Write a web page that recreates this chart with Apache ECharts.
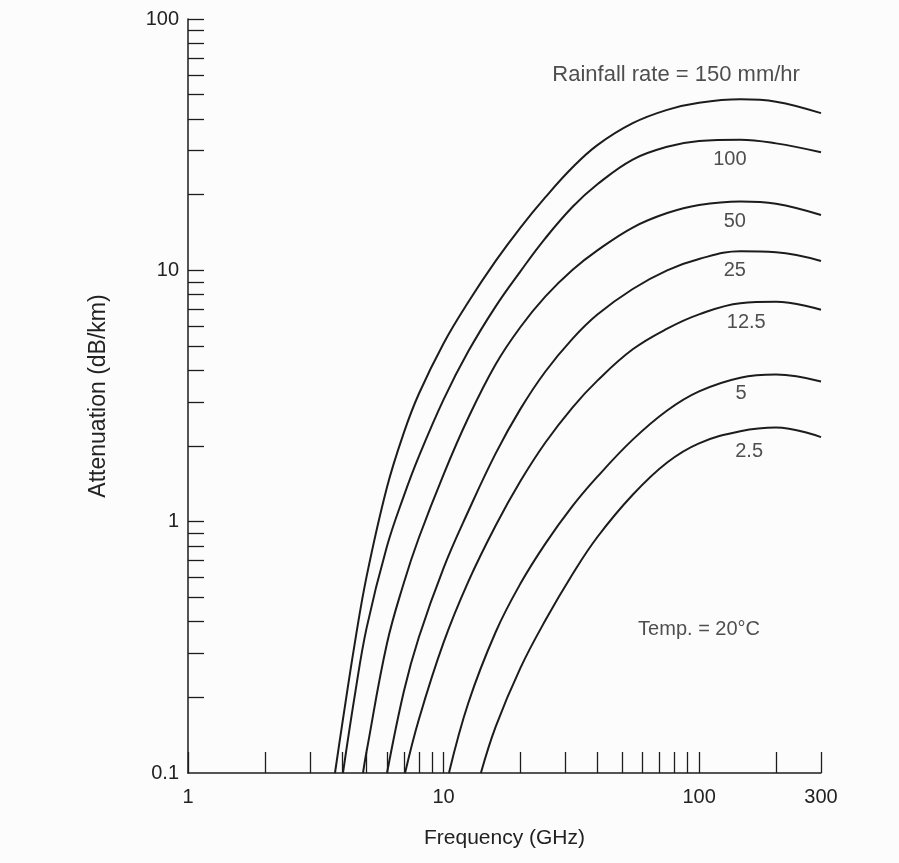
<!DOCTYPE html>
<html>
<head>
<meta charset="utf-8">
<title>Rain attenuation vs frequency</title>
<script src="https://cdn.jsdelivr.net/npm/echarts@6.0.0/dist/echarts.min.js"></script>
<style>
html, body { margin: 0; padding: 0; background: #fcfcfc; }
#main { width: 899px; height: 863px; }
</style>
</head>
<body>
<div id="main"></div>
<script>
// rainfall rates (mm/hr), one curve each
var rates = ['150', '100', '50', '25', '12.5', '5', '2.5'];

// frequency (GHz) / attenuation (dB/km)
var freq150 = [3.76, 4, 4.5, 5, 6, 7, 8, 10, 12.5, 16, 20, 25, 32, 40, 55, 75, 100, 145, 200, 300];
var atten150 = [0.1, 0.153, 0.331, 0.606, 1.365, 2.265, 3.22, 5.12, 7.48, 10.9, 14.8, 19.5, 25.7, 31.5, 38.5, 43.5, 46.4, 47.9, 46.9, 42.2];

var freq100 = [4.04, 4.5, 5, 6, 7, 8, 10, 12.5, 16, 20, 25, 32, 40, 55, 75, 100, 145, 200, 300];
var atten100 = [0.1, 0.205, 0.378, 0.795, 1.27, 1.815, 3.06, 4.76, 7.19, 9.91, 13.4, 17.9, 22.0, 27.6, 31.0, 32.7, 33.1, 32.0, 29.5];

var freq50 = [4.84, 5, 6, 7, 8, 10, 12.5, 16, 20, 25, 32, 40, 55, 75, 100, 145, 200, 300];
var atten50 = [0.1, 0.122, 0.326, 0.573, 0.861, 1.54, 2.59, 4.23, 5.95, 7.86, 10.05, 12.0, 14.8, 16.9, 18.2, 18.8, 18.4, 16.6];

var freq25 = [6.01, 7, 8, 10, 12.5, 16, 20, 25, 32, 40, 55, 75, 100, 145, 200, 300];
var atten25 = [0.1, 0.212, 0.346, 0.654, 1.10, 1.87, 2.81, 3.95, 5.35, 6.67, 8.43, 10.0, 11.1, 11.9, 11.8, 10.9];

var freq12 = [7.07, 8, 10, 12.5, 16, 20, 25, 32, 40, 55, 75, 100, 145, 200, 300];
var atten12 = [0.1, 0.163, 0.330, 0.577, 0.965, 1.45, 2.06, 2.85, 3.64, 4.85, 5.86, 6.68, 7.4, 7.5, 6.97];

var freq5 = [10.5, 12.5, 16, 20, 25, 32, 40, 55, 75, 100, 145, 200, 300];
var atten5 = [0.1, 0.19, 0.364, 0.567, 0.816, 1.155, 1.51, 2.12, 2.77, 3.30, 3.74, 3.85, 3.61];

var freq2 = [14.0, 16, 20, 25, 32, 40, 55, 75, 100, 145, 200, 300];
var atten2 = [0.1, 0.153, 0.262, 0.404, 0.619, 0.869, 1.28, 1.72, 2.05, 2.29, 2.37, 2.17];

var curveFreq = [freq150, freq100, freq50, freq25, freq12, freq5, freq2];
var curveAtten = [atten150, atten100, atten50, atten25, atten12, atten5, atten2];

// tick marks and labels (log paper)
var xTicks = [1, 2, 3, 4, 5, 6, 7, 8, 9, 10, 20, 30, 40, 50, 60, 70, 80, 90, 100, 200, 300];
var xLabels = [1, 10, 100, 300];
var yTicks = [0.2, 0.3, 0.4, 0.5, 0.6, 0.7, 0.8, 0.9, 1, 2, 3, 4, 5, 6, 7, 8, 9, 10,
              20, 30, 40, 50, 60, 70, 80, 90, 100];
var yLabels = [0.1, 1, 10, 100];

// text on the plot, placed in data units
var noteText = ['Rainfall rate = 150 mm/hr', '100', '50', '25', '12.5', '5', '2.5', 'Temp. = 20°C'];
var noteSize = [22, 20, 20, 20, 20, 20, 20, 20];
var noteFreq = [81.3, 132, 138, 138, 153, 146, 157, 100];
var noteAtten = [60, 27.7, 15.7, 10.0, 6.2, 3.24, 1.9, 0.371];

function lg(v) { return Math.log10(v); }
function unlg(v) { return String(parseFloat(Math.pow(10, v).toPrecision(3))); }

function RainAttenuationChart(elementId)
{
    var myChart = echarts.init(document.getElementById(elementId));
    var ink = '#1c1c1c';
    var txt = '#222';
    var font = 'Liberation Sans, Arial, Helvetica, sans-serif';
    var series = [];

    for (var i = 0; i < rates.length; i++) {
        var pts = [];
        for (var j = 0; j < curveFreq[i].length; j++) {
            pts.push([lg(curveFreq[i][j]), lg(curveAtten[i][j])]);
        }
        series.push({
            name: rates[i],
            type: 'line',
            data: pts,
            symbol: 'none',
            smooth: 0.4,
            clip: true,
            lineStyle: { color: ink, width: 2 }
        });
    }

    var notes = [];
    for (var k = 0; k < noteText.length; k++) {
        notes.push({
            value: [lg(noteFreq[k]), lg(noteAtten[k])],
            label: { formatter: noteText[k], fontSize: noteSize[k] }
        });
    }
    series.push({
        name: 'notes',
        type: 'scatter',
        data: notes,
        symbolSize: 1,
        itemStyle: { color: 'rgba(0,0,0,0)' },
        label: {
            show: true,
            position: 'inside',
            color: txt,
            fontFamily: font
        },
        silent: true
    });

    var option =
    {
        backgroundColor: '#fcfcfc',
        animation: false,
        grid: { left: 188, right: 78, top: 19, bottom: 90, outerBoundsMode: 'none' },
        xAxis: {
            type: 'value',
            min: 0,
            max: lg(300),
            name: 'Frequency (GHz)',
            nameLocation: 'middle',
            nameGap: 55,
            nameTextStyle: { color: txt, fontFamily: font, fontSize: 21 },
            axisLine: { show: true, onZero: false, lineStyle: { color: ink, width: 1.5 } },
            axisTick: {
                show: true, inside: true, length: 21,
                customValues: xTicks.map(lg),
                lineStyle: { color: ink, width: 1.3 }
            },
            axisLabel: {
                show: true, margin: 14,
                customValues: xLabels.map(lg),
                formatter: unlg,
                color: txt, fontFamily: font, fontSize: 20
            },
            splitLine: { show: false }
        },
        yAxis: {
            type: 'value',
            min: -1,
            max: 2,
            name: 'Attenuation (dB/km)',
            nameLocation: 'middle',
            nameGap: 78,
            nameTextStyle: { color: txt, fontFamily: font, fontSize: 23 },
            axisLine: { show: true, onZero: false, lineStyle: { color: ink, width: 1.5 } },
            axisTick: {
                show: true, inside: true, length: 16,
                customValues: yTicks.map(lg),
                lineStyle: { color: ink, width: 1.3 }
            },
            axisLabel: {
                show: true, margin: 9,
                customValues: yLabels.map(lg),
                formatter: unlg,
                color: txt, fontFamily: font, fontSize: 20
            },
            splitLine: { show: false }
        },
        series: series
    };
    myChart.setOption(option);
    return myChart;
}

RainAttenuationChart('main');
</script>
</body>
</html>
